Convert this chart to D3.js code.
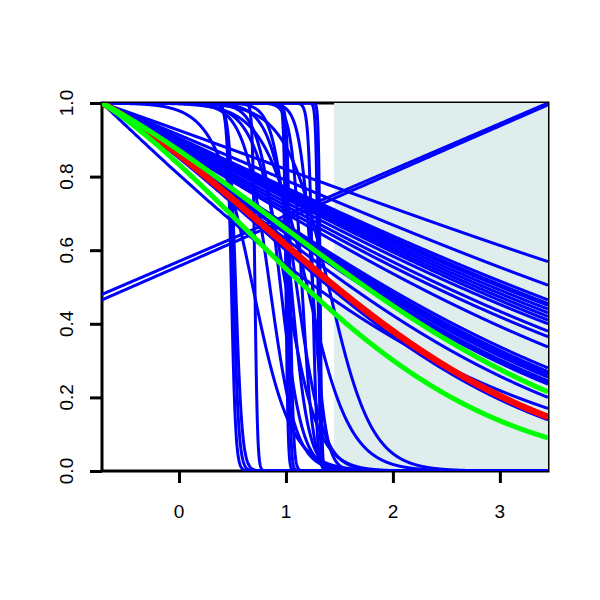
<!DOCTYPE html>
<html>
<head>
<meta charset="utf-8">
<script src="https://cdn.jsdelivr.net/npm/d3@7"></script>
<style>
  body { margin: 0; background: #fff; }
</style>
</head>
<body>
<div id="chart"></div>
<script>
// axis ticks
var xTicks = [0, 1, 2, 3];
var yTicks = [0, 0.2, 0.4, 0.6, 0.8, 1.0];
var xRange = [-0.72, 3.45];
var shadeStart = 1.45;

// decaying curves: value at x = 1 and value at right edge
var decayMid = [0.82, 0.79, 0.77, 0.765, 0.76, 0.755, 0.75, 0.745, 0.74, 0.73, 0.72, 0.71, 0.70,
                0.67, 0.665, 0.66, 0.66, 0.655, 0.65, 0.648, 0.645, 0.63, 0.56, 0.60];
var decayEnd = [0.569, 0.505, 0.465, 0.455, 0.45, 0.44, 0.43, 0.42, 0.41, 0.40, 0.38, 0.365, 0.337,
                0.28, 0.27, 0.265, 0.262, 0.255, 0.245, 0.24, 0.236, 0.20, 0.17, 0.139];

// step-like curves: midpoint and spread
var stepMid = [0.49, 0.51, 0.53, 0.71, 1.0, 1.02, 1.04, 1.25, 1.30, 1.32,
               0.69, 0.85, 0.95, 1.0, 1.05, 1.1, 1.15, 1.2, 1.25, 1.4];
var stepSpread = [0.02, 0.025, 0.03, 0.012, 0.01, 0.012, 0.015, 0.02, 0.01, 0.008,
                  0.18, 0.12, 0.1, 0.15, 0.08, 0.12, 0.05, 0.2, 0.06, 0.2];

// two rising lines: value at left and right edge
var riseStart = [0.48, 0.465];
var riseEnd = [1.0, 0.995];

// highlighted curves
var redMid = [0.614], redEnd = [0.147];
var greenMid = [0.658, 0.55], greenEnd = [0.215, 0.09];

var width = 600, height = 600;
var svg = d3.select("#chart").append("svg")
    .attr("width", width)
    .attr("height", height);

var x = d3.scaleLinear().domain(xRange).range([102, 548]);
var y = d3.scaleLinear().domain([0, 1]).range([471, 103]);

svg.append("defs").append("clipPath").attr("id", "plotclip")
    .append("rect")
    .attr("x", x(xRange[0])).attr("y", y(1))
    .attr("width", x(xRange[1]) - x(xRange[0]))
    .attr("height", y(0) - y(1));

// box, then the shaded band over its inner half
svg.append("rect")
    .attr("x", x(xRange[0])).attr("y", y(1))
    .attr("width", x(xRange[1]) - x(xRange[0]))
    .attr("height", y(0) - y(1))
    .attr("fill", "none")
    .attr("stroke", "#000")
    .attr("stroke-width", 3);

svg.append("rect")
    .attr("x", x(shadeStart)).attr("y", y(1))
    .attr("width", x(xRange[1]) - x(shadeStart))
    .attr("height", y(0) - y(1))
    .attr("fill", "#e0eded");

// axes (ticks from d3, labels placed by hand)
var xAxis = d3.axisBottom(x).tickValues(xTicks).tickSize(12).tickFormat("");
var gx = svg.append("g").attr("transform", "translate(0," + y(0) + ")").call(xAxis);
gx.select(".domain").remove();
gx.selectAll(".tick line").attr("stroke-width", 3);

var yAxis = d3.axisLeft(y).tickValues(yTicks).tickSize(12).tickFormat("");
var gy = svg.append("g").attr("transform", "translate(" + x(xRange[0]) + ",0)").call(yAxis);
gy.select(".domain").remove();
gy.selectAll(".tick line").attr("stroke-width", 3);

svg.selectAll(".xlab").data(xTicks).enter().append("text")
    .attr("class", "xlab")
    .attr("x", function (d) { return x(d); })
    .attr("y", 518)
    .attr("text-anchor", "middle")
    .attr("font-family", "Liberation Sans, Arial, sans-serif")
    .attr("font-size", 19)
    .text(d3.format("d"));

svg.selectAll(".ylab").data(yTicks).enter().append("text")
    .attr("class", "ylab")
    .attr("transform", function (d) { return "translate(73," + y(d) + ") rotate(-90)"; })
    .attr("text-anchor", "middle")
    .attr("font-family", "Liberation Sans, Arial, sans-serif")
    .attr("font-size", 19)
    .text(d3.format(".1f"));

// sample grid along x
var t0 = xRange[0];
var xs = d3.range(0, 1601).map(function (i) { return xRange[0] + (xRange[1] - xRange[0]) * i / 1600; });

// cumulative hazard through value at x = 1 and at right edge
function decayFn(mid, end) {
    var t1 = 1 - t0, t2 = xRange[1] - t0;
    var h1 = -Math.log(mid), h2 = -Math.log(end);
    var b = (h2 - h1 * t2 / t1) / (t2 * t2 - t1 * t2);
    var a = (h1 - b * t1 * t1) / t1;
    return function (v) { var t = v - t0; return Math.exp(-(a * t + b * t * t)); };
}
function stepFn(m, s) {
    return function (v) { return 1 / (1 + Math.exp((v - m) / s)); };
}
function riseFn(s, e) {
    return function (v) { return s + (e - s) * (v - xRange[0]) / (xRange[1] - xRange[0]); };
}

var line = d3.line().x(function (d) { return x(d[0]); }).y(function (d) { return y(d[1]); });
var plot = svg.append("g").attr("clip-path", "url(#plotclip)");

function drawCurve(fn, color, lw) {
    plot.append("path")
        .datum(xs.map(function (v) { return [v, fn(v)]; }))
        .attr("d", line)
        .attr("fill", "none")
        .attr("stroke", color)
        .attr("stroke-width", lw)
        .attr("stroke-linejoin", "round");
}

stepMid.forEach(function (m, i) { drawCurve(stepFn(m, stepSpread[i]), "#0000ff", 3); });
decayMid.forEach(function (m, i) { drawCurve(decayFn(m, decayEnd[i]), "#0000ff", 3); });
riseStart.forEach(function (s, i) { drawCurve(riseFn(s, riseEnd[i]), "#0000ff", 3); });
redMid.forEach(function (m, i) { drawCurve(decayFn(m, redEnd[i]), "#ff0000", 6.5); });
greenMid.forEach(function (m, i) { drawCurve(decayFn(m, greenEnd[i]), "#00ff00", 5); });
</script>
</body>
</html>
